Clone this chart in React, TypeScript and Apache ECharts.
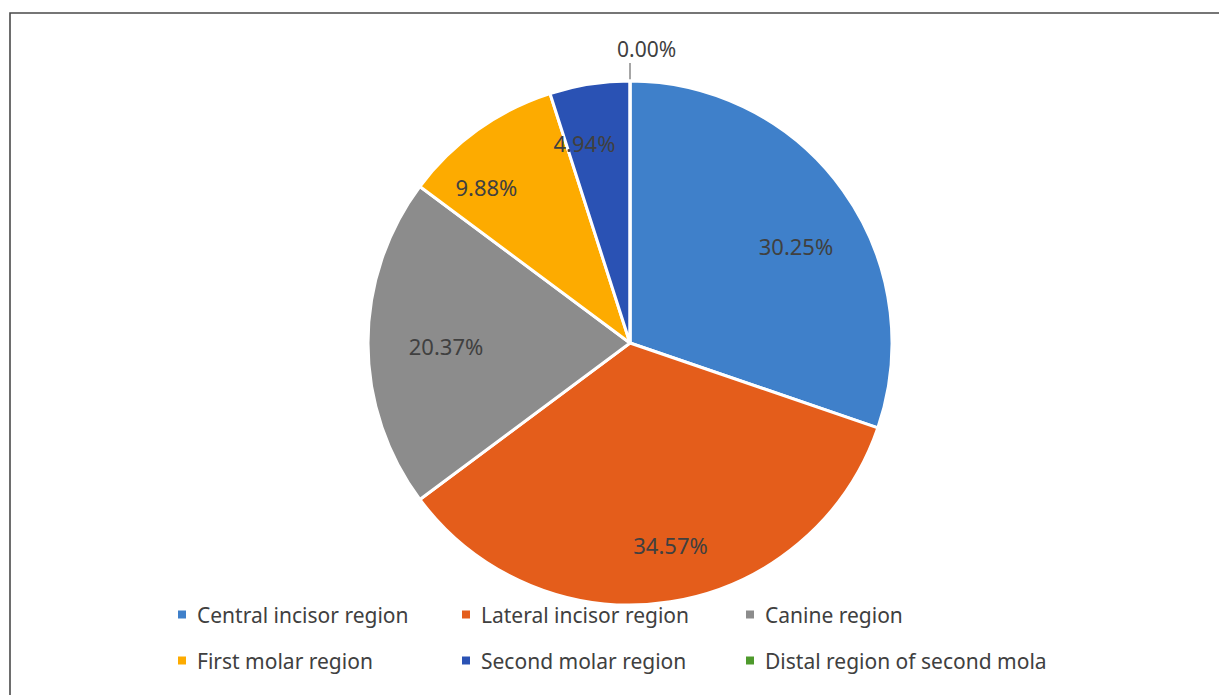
import React, { useEffect, useRef } from "react";
import * as echarts from "echarts";

const categories = [
  "Central incisor region",
  "Lateral incisor region",
  "Canine region",
  "First molar region",
  "Second molar region",
  "Distal region of second mola",
];
const counts = [49, 56, 33, 16, 8, 0];
const colors = ["#3F80CA", "#E45D1B", "#8C8C8C", "#FDAB00", "#2A52B4", "#4E9A2C"];
// small per-label nudges (px) to mimic the "best fit" placement of the original
const labelNudgeX = [0, 9, 20, -25, -14, 0];
const labelNudgeY = [22, 0, 3, 10, 2, 0];

const FONT = "Noto Sans";
const TEXT = "#404040";

export default function App() {
  const ref = useRef<HTMLDivElement>(null);
  useEffect(() => {
    if (!ref.current) return;
    const chart = echarts.init(ref.current, null, { renderer: "svg" });
    const total = counts.reduce((a, b) => a + b, 0);
    const fmt = (p: any) => `${((p.value / total) * 100).toFixed(2)}%`;
    const mainData = categories.map((name, i) => {
      const item: any = { name, value: counts[i], itemStyle: { color: colors[i] } };
      if (counts[i] === 0) {
        item.label = {
          show: true,
          position: "outside",
          formatter: fmt,
          fontFamily: FONT,
          fontSize: 21,
          color: TEXT,
        };
        item.labelLine = {
          show: true,
          length: 18,
          length2: 0,
          lineStyle: { color: "#a6a6a6", width: 2 },
        };
      }
      return item;
    });
    const labelData = categories.map((name, i) => ({
      name,
      value: counts[i],
      label: { show: counts[i] !== 0 },
    }));
    chart.setOption({
      animation: false,
      graphic: [
        {
          type: "rect",
          shape: { x: 10, y: 13, width: 1400, height: 900 },
          style: { fill: "none", stroke: "#4a4a4a", lineWidth: 1.6 },
          z: 0,
        },
      ],
      legend: {
        left: 176,
        top: 600.5,
        width: 900,
        padding: 0,
        orient: "horizontal",
        icon: "rect",
        itemWidth: 10,
        itemHeight: 10,
        itemGap: 18,
        data: categories,
        textStyle: {
          fontFamily: FONT,
          fontSize: 21,
          color: TEXT,
          width: 245,
          overflow: "none",
          lineHeight: 28,
          padding: [0, 0, 0, 5],
        },
      },
      series: [
        {
          type: "pie",
          center: [630, 343],
          radius: [0, 262],
          startAngle: 90,
          clockwise: true,
          avoidLabelOverlap: false,
          silent: true,
          itemStyle: { borderColor: "#ffffff", borderWidth: 3 },
          label: { show: false },
          labelLine: { show: false },
          labelLayout: (p: any) =>
            counts[p.dataIndex] === 0
              ? { align: "left", verticalAlign: "bottom", dx: -8, dy: -4 }
              : {},
          data: mainData,
        },
        {
          type: "pie",
          center: [630, 343],
          radius: [140, 262],
          startAngle: 90,
          clockwise: true,
          avoidLabelOverlap: false,
          silent: true,
          itemStyle: { color: "rgba(0,0,0,0)", borderWidth: 0 },
          label: {
            position: "inside",
            formatter: fmt,
            fontFamily: FONT,
            fontSize: 22,
            color: TEXT,
          },
          labelLayout: (p: any) => ({
            dx: labelNudgeX[p.dataIndex],
            dy: labelNudgeY[p.dataIndex],
          }),
          labelLine: { show: false },
          emphasis: { disabled: true },
          data: labelData,
        },
      ],
    });
    return () => chart.dispose();
  }, []);
  return (
    <div
      ref={ref}
      style={{ position: "fixed", left: 0, top: 0, width: 1219, height: 695, background: "#fff" }}
    />
  );
}
